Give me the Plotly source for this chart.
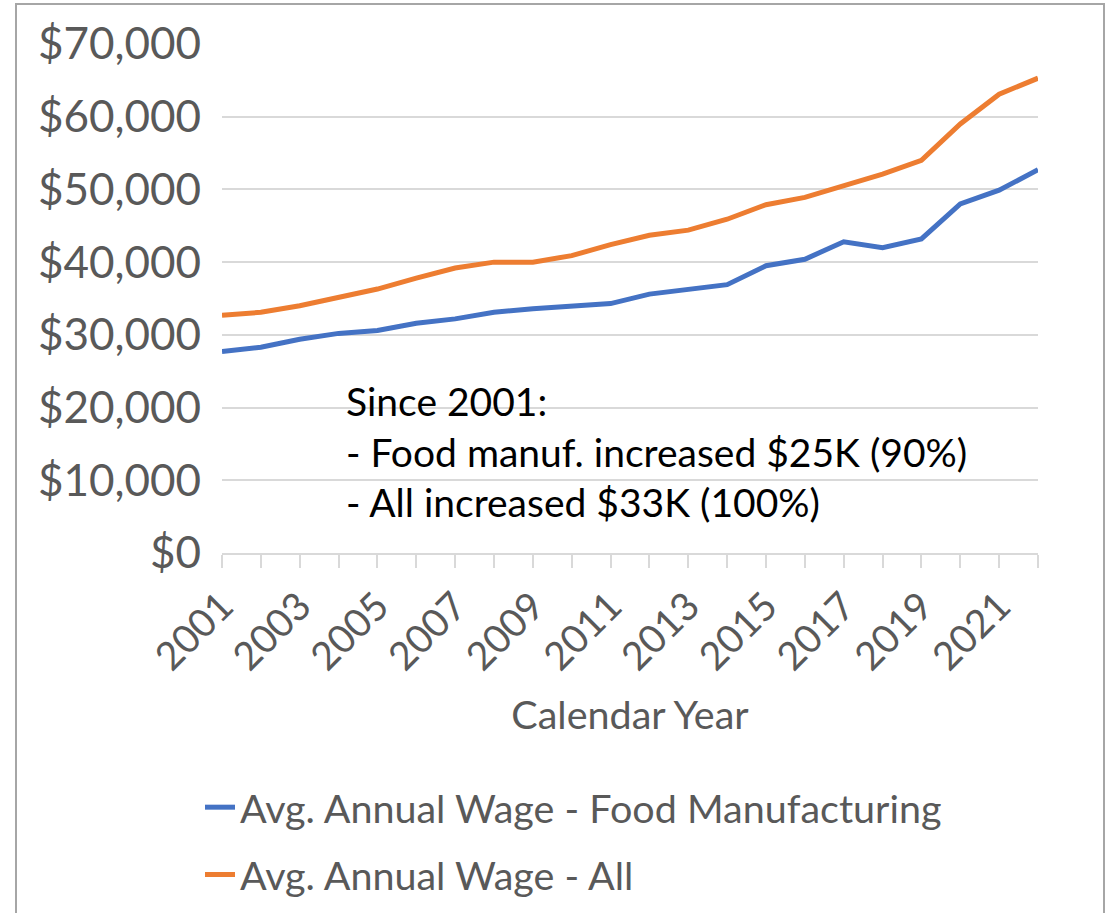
import plotly.graph_objects as go

# Average annual wages, 2001-2022
years = list(range(2001, 2023))
food_manufacturing = [27700, 28300, 29400, 30200, 30600, 31600, 32200, 33100, 33600, 33900, 34300,
                      35600, 36200, 36900, 39500, 40400, 42800, 42000, 43200, 48000, 49900, 52700]
all_industries = [32700, 33100, 34000, 35200, 36300, 37800, 39200, 40000, 40000, 40900, 42400,
                  43700, 44400, 45900, 47900, 48900, 50500, 52100, 54000, 59000, 63100, 65300]

series_names = ["Avg. Annual Wage - Food Manufacturing", "Avg. Annual Wage - All"]
series_colors = ["#4472C4", "#ED7D31"]

note_lines = ["Since 2001:", "- Food manuf. increased $25K (90%)", "- All increased $33K (100%)"]

W, H = 1109, 913
L, R, T, B = 222, 71, 44, 360
FONT = "Lato"
GREY = "#595959"
GRID = "#D9D9D9"

fig = go.Figure()
for i, (name, vals) in enumerate(zip(series_names, [food_manufacturing, all_industries])):
    fig.add_trace(go.Scatter(
        x=years, y=vals, mode="lines", name=name,
        line=dict(color=series_colors[i], width=5),
        legendgroup=f"g{i}",
    ))

fig.add_annotation(
    x=2004.15, y=13900, xref="x", yref="y",
    text="<br>".join(note_lines), showarrow=False,
    xanchor="left", yanchor="middle", align="left",
    font=dict(family=FONT, size=39, color="#000000"),
)

pw = W - L - R
ph = H - T - B


def px_x(px):
    return (px - L) / pw


def px_y(py):
    return 1 - (py - T) / ph


# outer chart frame
fig.add_shape(
    type="rect", xref="paper", yref="paper",
    x0=px_x(16), x1=px_x(1104), y0=px_y(930), y1=px_y(4),
    line=dict(color="#A6A6A6", width=2), fillcolor="rgba(0,0,0,0)", layer="below",
)

fig.update_layout(
    width=W, height=H,
    margin=dict(l=L, r=R, t=T, b=B, autoexpand=False),
    paper_bgcolor="white", plot_bgcolor="white",
    showlegend=True,
    legend=dict(
        xref="container", yref="container",
        x=200 / W, y=1 - 775 / H, xanchor="left", yanchor="top",
        font=dict(family=FONT, size=39.5, color=GREY),
        tracegroupgap=13, bgcolor="rgba(0,0,0,0)",
    ),
    xaxis=dict(
        range=[2001, 2022], tick0=2001, dtick=2, tickangle=-45, automargin=False,
        ticks="outside", ticklen=13, tickcolor=GRID, tickwidth=1.5,
        minor=dict(dtick=1, ticks="outside", ticklen=13, tickcolor=GRID, tickwidth=1.5),
        showline=True, linecolor=GRID, linewidth=1.5, showgrid=False, zeroline=False,
        tickfont=dict(family=FONT, size=39, color=GREY),
        title=dict(text="Calendar Year", font=dict(family=FONT, size=39.5, color=GREY), standoff=24),
    ),
    yaxis=dict(
        range=[0, 70000], dtick=10000, tickformat="$,.0f", automargin=False,
        showgrid=True, gridcolor=GRID, gridwidth=1.5, zeroline=False,
        showline=False, ticks="", ticklabelstandoff=20,
        tickfont=dict(family=FONT, size=44, color=GREY),
    ),
)

fig.write_html("out.html")
